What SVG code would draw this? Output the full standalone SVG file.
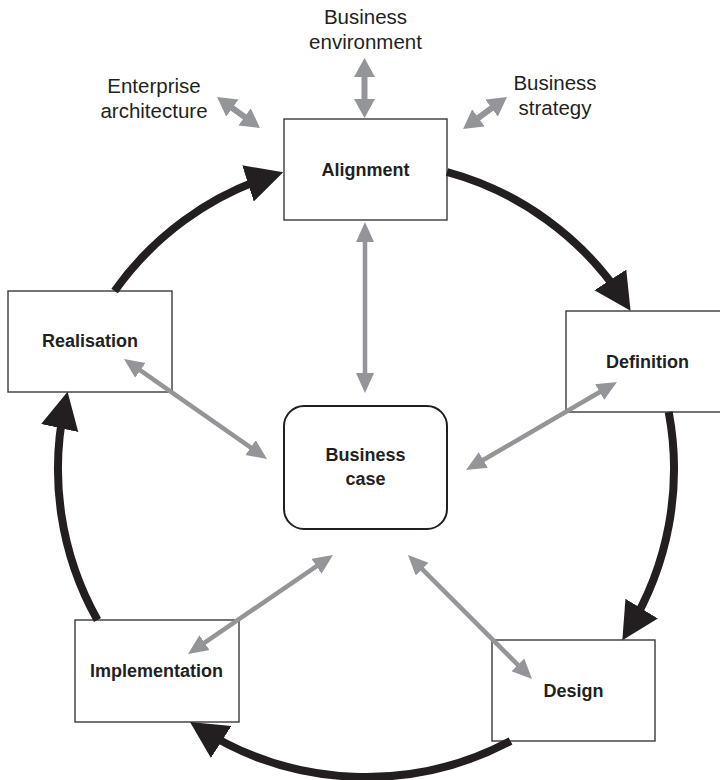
<svg xmlns="http://www.w3.org/2000/svg" width="720" height="780" viewBox="0 0 720 780">
<style>
.box{fill:#fff;stroke:#3a3a3a;stroke-width:1.4}
.case{fill:#fff;stroke:#231f20;stroke-width:2}
.lbl{font-family:"Liberation Sans",Arial,sans-serif;font-size:18px;font-weight:bold;fill:#231f20;text-anchor:middle}
.ext{font-family:"Liberation Sans",Arial,sans-serif;font-size:20.5px;fill:#231f20;text-anchor:middle}
.cyc{fill:none;stroke:#231f20;stroke-width:8;marker-end:url(#bh)}
.lnk{fill:none;stroke:#939598;stroke-width:4.5;marker-start:url(#gh);marker-end:url(#gh)}
.top{fill:none;stroke:#939598;stroke-width:6;marker-start:url(#th);marker-end:url(#th)}
</style>
<defs>
<marker id="bh" markerUnits="userSpaceOnUse" markerWidth="42" markerHeight="42" refX="25" refY="19" orient="auto">
<path d="M0,0 L37,19 L0,38 z" fill="#231f20"/>
</marker>
<marker id="gh" markerUnits="userSpaceOnUse" markerWidth="22" markerHeight="20" refX="14" refY="9" orient="auto-start-reverse">
<path d="M0,0 L20,9 L0,18 z" fill="#939598"/>
</marker>
<marker id="th" markerUnits="userSpaceOnUse" markerWidth="22" markerHeight="22" refX="13" refY="10.5" orient="auto-start-reverse">
<path d="M0,0 L19,10.5 L0,21 z" fill="#939598"/>
</marker>
</defs>
<rect width="720" height="780" fill="#fff"/>
<g id="node-alignment"><rect class="box" x="284" y="119" width="163" height="101"/><text class="lbl" x="365.5" y="176">Alignment</text></g>
<g id="node-definition"><rect class="box" x="566" y="311" width="162" height="101"/><text class="lbl" x="647.5" y="368">Definition</text></g>
<g id="node-design"><rect class="box" x="492" y="640" width="163" height="101"/><text class="lbl" x="573.5" y="697">Design</text></g>
<g id="node-implementation"><rect class="box" x="75" y="620" width="164" height="102"/><text class="lbl" x="156.5" y="677">Implementation</text></g>
<g id="node-realisation"><rect class="box" x="8" y="291" width="164" height="101"/><text class="lbl" x="90" y="347">Realisation</text></g>
<g id="node-business-case"><rect class="case" x="284" y="406" width="163" height="123" rx="20" ry="20"/><text class="lbl" x="365.5" y="461">Business</text><text class="lbl" x="365.5" y="485">case</text></g>
<g id="node-business-environment"><text class="ext" x="365.5" y="24">Business</text><text class="ext" x="365.5" y="49">environment</text></g>
<g id="node-enterprise-architecture"><text class="ext" x="154" y="93">Enterprise</text><text class="ext" x="154" y="118">architecture</text></g>
<g id="node-business-strategy"><text class="ext" x="555" y="90">Business</text><text class="ext" x="555" y="115">strategy</text></g>
<g id="connectors">
<path class="cyc" d="M447,172 A308,308 0 0 1 624,300.8"/>
<path class="cyc" d="M668.7,412 A308,308 0 0 1 628.6,629.9"/>
<path class="cyc" d="M510.5,741 A308,308 0 0 1 200.1,728.5"/>
<path class="cyc" d="M97.5,620 A308,308 0 0 1 65,403.6"/>
<path class="cyc" d="M114.6,291 A308,308 0 0 1 271.8,175.8"/>
<path class="lnk" d="M365,228 L365,387"/>
<path class="lnk" d="M128.9,362.4 L262.1,455.6"/>
<path class="lnk" d="M471.2,467 L611.8,385"/>
<path class="lnk" d="M193,650.6 L328,558.4"/>
<path class="lnk" d="M412.2,559.2 L527.8,674.8"/>
<path class="top" d="M364.5,64 L364.5,112"/>
<path class="top" d="M221.9,100.5 L255.1,124.5"/>
<path class="top" d="M502.1,100.5 L467.9,125.5"/>
</g>
</svg>
